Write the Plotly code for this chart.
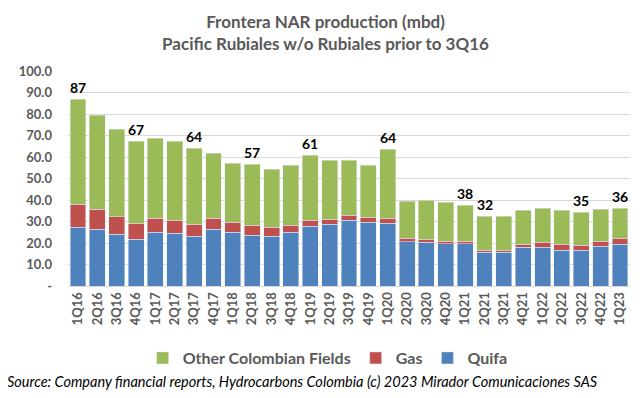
import plotly.graph_objects as go

quarters = ["1Q16","2Q16","3Q16","4Q16","1Q17","2Q17","3Q17","4Q17","1Q18","2Q18",
            "3Q18","4Q18","1Q19","2Q19","3Q19","4Q19","1Q20","2Q20","3Q20","4Q20",
            "1Q21","2Q21","3Q21","4Q21","1Q22","2Q22","3Q22","4Q22","1Q23"]

quifa = [27.4, 26.4, 24.1, 21.8, 25.0, 24.6, 23.2, 26.4, 25.0, 23.6,
         23.2, 25.0, 27.8, 28.7, 30.6, 29.7, 29.1, 20.7, 20.4, 19.6,
         19.6, 15.7, 15.7, 18.0, 18.0, 16.7, 16.7, 18.5, 19.5]
gas = [10.6, 9.3, 8.1, 7.4, 6.5, 6.0, 5.5, 5.1, 4.7, 4.7,
       4.2, 3.3, 2.8, 2.4, 2.3, 2.3, 2.4, 1.5, 1.4, 1.2,
       1.2, 1.0, 1.0, 1.4, 2.4, 2.7, 2.3, 2.3, 2.7]
other = [48.9, 43.8, 40.7, 38.2, 37.2, 36.8, 35.4, 30.2, 27.3, 28.3,
         26.9, 27.9, 30.3, 27.4, 25.6, 24.2, 32.1, 17.2, 18.1, 18.2,
         16.8, 15.8, 15.8, 15.9, 15.8, 15.9, 15.3, 14.9, 14.0]
labels = {"1Q16": "87", "4Q16": "67", "3Q17": "64", "2Q18": "57", "1Q19": "61",
          "1Q20": "64", "1Q21": "38", "2Q21": "32", "3Q22": "35", "1Q23": "36"}

ytick_vals = [0, 10, 20, 30, 40, 50, 60, 70, 80, 90, 100]
ytick_text = ["-", "10.0", "20.0", "30.0", "40.0", "50.0", "60.0", "70.0", "80.0", "90.0", "100.0"]

FONT = "Lato"
GRAY = "#595959"

fig = go.Figure()
fig.add_bar(x=quarters, y=quifa, name="Quifa", marker_color="#4F81BD")
fig.add_bar(x=quarters, y=gas, name="Gas", marker_color="#C0504D")
fig.add_bar(x=quarters, y=other, name="Other Colombian Fields", marker_color="#9BBB59")

totals = [a + b + c for a, b, c in zip(quifa, gas, other)]
for q, t in zip(quarters, totals):
    if q in labels:
        fig.add_annotation(x=q, y=t, text=labels[q], showarrow=False, yanchor="bottom",
                           yshift=1, font=dict(family=FONT, size=14, color="black", weight="bold"))

fig.add_annotation(xref="paper", yref="paper", x=-0.112, y=-0.446, xanchor="left", yanchor="middle",
                   showarrow=False,
                   text="<i>Source: Company financial reports, Hydrocarbons Colombia (c) 2023 Mirador Comunicaciones SAS</i>",
                   font=dict(family=FONT, size=14.5, color="black"))

# page body has an 8px default margin; size the figure to fit the window
fig.update_layout(
    barmode="stack",
    bargap=0.175,
    width=635, height=390,
    margin=dict(l=60, r=13, t=63, b=112, autoexpand=False),
    paper_bgcolor="white", plot_bgcolor="white",
    title=dict(text="Frontera NAR production (mbd)<br>Pacific Rubiales w/o Rubiales prior to 3Q16",
               x=0.5, xref="container", xanchor="center", y=0.949, yanchor="top",
               font=dict(family=FONT, size=17, color=GRAY, weight="bold")),
    legend=dict(orientation="h", traceorder="reversed", x=0.462, xanchor="center",
                y=-0.335, yanchor="middle",
                font=dict(family=FONT, size=16, color=GRAY, weight="bold")),
    font=dict(family=FONT),
)
fig.update_yaxes(range=[0, 100], tickvals=ytick_vals, ticktext=ytick_text,
                 showgrid=True, gridcolor="#D9D9D9", gridwidth=1, zeroline=False,
                 tickfont=dict(family=FONT, size=13, color=GRAY, weight="bold"),
                 ticks="", ticklabelstandoff=15, automargin=False)
fig.update_xaxes(tickangle=-90, showline=True, linecolor="#D9D9D9", linewidth=1,
                 tickfont=dict(family=FONT, size=13, color=GRAY, weight="bold"),
                 ticks="", automargin=False)

fig.write_html("out.html")
